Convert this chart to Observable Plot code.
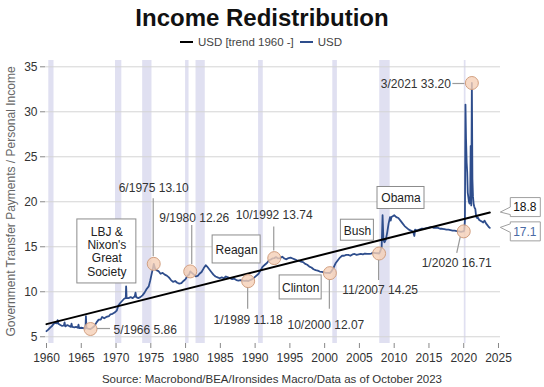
<!DOCTYPE html>
<html><head><meta charset="utf-8">
<script src="https://cdn.jsdelivr.net/npm/d3@7"></script>
<script src="https://cdn.jsdelivr.net/npm/@observablehq/plot@0.6"></script>
<style>
body{margin:0;background:#fff;font-family:"Liberation Sans",Arial,sans-serif;}
#wrap{position:relative;width:544px;height:387px;overflow:hidden;background:#fff}
#title{position:absolute;left:0;top:4px;width:524px;text-align:center;font-size:24px;font-weight:bold;line-height:28px;color:#111}
#legend{position:absolute;left:0;top:35px;width:522px;display:flex;justify-content:center;align-items:center;font-size:11.5px;line-height:14px;color:#444}
#legend .sw{display:inline-block;width:13px;height:2.5px;margin-right:5px}
#legend .it{display:flex;align-items:center;margin:0 3px}
#chart{position:absolute;left:0;top:48px}
#caption{position:absolute;left:0;top:371px;width:544px;text-align:center;font-size:11.5px;line-height:16px;color:#333}
</style></head>
<body>
<div id="wrap">
  <div id="title"></div>
  <div id="legend"></div>
  <div id="chart"></div>
  <div id="caption"></div>
</div>
<script>
// ---------- data ----------
const titleText = "Income Redistribution";
const captionText = "Source: Macrobond/BEA/Ironsides Macro/Data as of October 2023";
const yLabel = "Government Transfer Payments / Personal Income";
const seriesNames = ["USD [trend 1960 -]", "USD"];

const seriesYears = [
1960.00,1960.25,1960.50,1960.75,1961.00,1961.25,1961.50,1961.60,1961.70,1962.00,1962.25,1962.50,1962.60,1962.70,
1963.00,1963.25,1963.50,1963.60,1963.70,1964.00,1964.25,1964.50,1964.60,1964.70,1965.00,1965.30,1965.60,1965.67,1965.75,
1966.00,1966.33,1966.60,1966.90,1967.20,1967.50,1967.80,1968.00,1968.30,1968.60,1969.00,1969.20,1969.50,1969.80,
1970.10,1970.35,1970.60,1970.90,1971.20,1971.40,1971.45,1971.52,1971.80,1972.10,1972.40,1972.70,1972.80,1972.90,
1973.20,1973.50,1973.80,1974.10,1974.40,1974.70,1974.90,1975.10,1975.30,1975.42,1975.60,1975.80,1976.10,1976.40,1976.70,
1977.00,1977.30,1977.60,1977.90,1978.20,1978.50,1978.80,1979.10,1979.40,1979.70,1980.00,1980.30,1980.50,1980.67,1980.90,
1981.20,1981.50,1981.80,1982.00,1982.30,1982.60,1982.90,1983.10,1983.40,1983.70,1984.00,1984.30,1984.60,1984.90,
1985.20,1985.50,1985.80,1986.10,1986.40,1986.70,1987.00,1987.30,1987.60,1987.90,1988.20,1988.50,1988.80,1989.00,
1989.30,1989.60,1989.90,1990.20,1990.50,1990.80,1991.10,1991.40,1991.70,1992.00,1992.30,1992.50,1992.75,
1993.00,1993.30,1993.60,1993.90,1994.20,1994.50,1994.80,1995.10,1995.40,1995.70,1996.00,1996.30,1996.60,1996.90,
1997.20,1997.50,1997.80,1998.10,1998.40,1998.70,1999.00,1999.30,1999.60,1999.90,2000.20,2000.50,2000.75,
2001.00,2001.30,2001.60,2001.90,2002.20,2002.50,2002.80,2003.10,2003.40,2003.70,2004.00,2004.30,2004.60,2004.90,
2005.20,2005.50,2005.80,2006.10,2006.40,2006.70,2007.00,2007.30,2007.60,2007.83,2008.00,2008.20,2008.33,2008.45,
2008.60,2008.80,2009.00,2009.20,2009.40,2009.50,2009.60,2009.80,2010.00,2010.30,2010.60,2010.90,2011.20,2011.50,
2011.80,2012.10,2012.40,2012.70,2012.90,2013.00,2013.30,2013.60,2013.90,2014.20,2014.50,2014.80,2015.10,2015.40,
2015.70,2016.00,2016.30,2016.60,2016.90,2017.20,2017.50,2017.80,2018.10,2018.40,2018.70,2019.00,2019.30,2019.60,
2019.90,2020.00,2020.08,2020.17,2020.25,2020.33,2020.42,2020.50,2020.58,2020.67,2020.75,2020.83,2020.92,2021.00,
2021.08,2021.17,2021.25,2021.33,2021.42,2021.50,2021.58,2021.67,2021.75,2021.83,2021.92,2022.00,2022.20,2022.40,
2022.60,2022.80,2023.00,2023.20,2023.40,2023.60,2023.75];
const seriesValues = [
5.62,5.8,6.0,6.15,6.4,6.55,6.5,6.85,6.45,6.3,6.2,6.25,6.6,6.15,
6.3,6.2,6.1,6.45,6.1,6.05,6.1,6.0,6.35,5.95,6.0,5.95,5.9,7.3,5.95,
5.9,5.86,6.0,6.2,6.6,6.9,6.9,7.2,7.05,7.2,7.3,7.5,7.55,7.7,
7.9,8.5,8.75,9.0,9.25,9.3,10.6,9.3,9.3,9.4,9.3,9.5,9.9,9.4,
9.3,9.4,9.6,9.9,10.3,10.6,11.2,11.9,12.6,13.1,12.6,12.4,12.3,12.0,12.1,
11.9,11.8,11.6,11.3,11.1,11.2,11.0,10.9,10.95,11.2,11.4,11.8,11.9,12.26,12.1,
11.9,11.7,11.8,12.0,12.2,12.6,12.95,12.8,12.5,12.2,11.9,11.7,11.6,11.5,
11.6,11.5,11.7,11.6,11.5,11.4,11.45,11.3,11.25,11.3,11.25,11.2,11.25,11.18,
11.3,11.4,11.6,11.8,12.0,12.4,12.8,13.0,13.2,13.5,13.6,13.7,13.74,
13.85,13.7,13.75,13.9,13.7,13.6,13.75,13.8,13.7,13.6,13.5,13.45,13.35,13.3,
13.1,13.0,12.8,12.7,12.5,12.4,12.35,12.25,12.2,12.15,12.1,12.1,12.07,
12.3,12.7,13.2,13.5,13.8,14.0,14.0,14.1,14.1,14.0,14.15,14.2,14.1,14.15,
14.2,14.15,14.25,14.2,14.2,14.25,14.35,14.3,14.28,14.25,14.5,15.0,18.5,15.8,
15.5,15.8,16.6,17.6,18.3,17.9,18.3,18.4,18.5,18.3,18.2,17.9,17.6,17.3,
17.1,16.9,16.8,16.7,16.2,16.9,16.8,16.9,17.0,17.0,17.05,17.1,17.15,17.2,
17.1,17.1,17.1,17.0,17.0,16.95,16.9,16.9,16.85,16.8,16.8,16.75,16.7,16.65,
16.7,16.71,16.9,17.9,30.8,27.0,24.4,23.3,21.0,20.5,20.0,19.8,19.9,26.2,
19.6,33.2,22.5,20.6,19.8,19.5,19.3,19.2,18.6,18.3,18.2,18.3,18.0,17.9,
17.8,17.7,17.9,17.6,17.4,17.2,17.1];

const trendYears = [1960, 2023.75];
const trendValues = [6.4, 18.8];

const recessionStart = [1960.33, 1969.92, 1973.83, 1980.0, 1981.5, 1990.5, 2001.17, 2007.92, 2020.08];
const recessionEnd   = [1961.08, 1970.83, 1975.17, 1980.5, 1982.83, 1991.17, 2001.83, 2009.42, 2020.33];

const annLabels = ["5/1966 5.86","6/1975 13.10","9/1980 12.26","1/1989 11.18","10/1992 13.74","10/2000 12.07","11/2007 14.25","1/2020 16.71","3/2021 33.20"];
const annYears  = [1966.33, 1975.42, 1980.67, 1989.0, 1992.75, 2000.75, 2007.83, 2020.0, 2021.17];
const annValues = [5.86, 13.10, 12.26, 11.18, 13.74, 12.07, 14.25, 16.71, 33.20];

const eraLabels = ["LBJ &\nNixon's\nGreat\nSociety", "Reagan", "Clinton", "Bush", "Obama"];
const eraYears  = [1968.68, 1987.34, 1996.55, 2004.71, 2010.98];
const eraValues = [14.48, 14.7, 10.48, 16.84, 20.42];

const endLabels = ["18.8", "17.1"];
const endValues = [18.8, 17.1];
const endYear = 2023.75;

const xTicks = [1960,1965,1970,1975,1980,1985,1990,1995,2000,2005,2010,2015,2020,2025];
const yTicks = [5,10,15,20,25,30,35];

// ---------- layout / style ----------
const BLUE = "#2e4d8c";
const annLayout = [
  {dx:23, dy:1,   anchor:"start",  lead:[7,0,20,0]},
  {dx:0,  dy:-76, anchor:"middle", lead:[0,-7,0,-65]},
  {dx:4,  dy:-53, anchor:"middle", lead:[2,-7,2,-46]},
  {dx:0,  dy:39,  anchor:"middle", lead:[0,7,0,28]},
  {dx:0,  dy:-43, anchor:"middle", lead:[0,-7,0,-31]},
  {dx:-4, dy:52,  anchor:"middle", lead:[0,7,0,36]},
  {dx:1,  dy:37,  anchor:"middle", lead:[0,7,0,27]},
  {dx:-7, dy:32,  anchor:"middle", lead:[-3,6,-6.5,22]},
  {dx:-21,dy:1,   anchor:"end",    lead:[-19,1,-7,1]}
];
const eraBox = [[59,64],[48,28],[42,24],[33,21],[47,22]];
const endLayout = [{dy:-5, color:"#111"}, {dy:4, color:"#4a6aa5"}];

// ---------- build ----------
document.getElementById("title").textContent = titleText;
document.getElementById("caption").textContent = captionText;
const leg = document.getElementById("legend");
[["#000", seriesNames[0]], [BLUE, seriesNames[1]]].forEach(([c, t]) => {
  const it = document.createElement("span"); it.className = "it";
  const sw = document.createElement("span"); sw.className = "sw"; sw.style.background = c;
  it.appendChild(sw); it.appendChild(document.createTextNode(t)); leg.appendChild(it);
});

const series = seriesYears.map((x, i) => ({x, y: seriesValues[i]}));
const trend = trendYears.map((x, i) => ({x, y: trendValues[i]}));
const recessions = recessionStart.map((s, i) => ({s, e: recessionEnd[i]}));
const ann = annYears.map((x, i) => ({x, y: annValues[i], t: annLabels[i]}));
const eras = eraYears.map((x, i) => ({x, y: eraValues[i], t: eraLabels[i]}));

const plot = Plot.plot({
  width: 544, height: 322,
  marginLeft: 45, marginRight: 44, marginTop: 12, marginBottom: 27,
  x: {domain: [1959.856, 2025.288]},
  y: {domain: [4.25, 35.7]},
  style: {fontFamily: "'Liberation Sans', Arial, sans-serif", fontSize: "12px", color: "#333", background: "#fff", overflow: "visible"},
  marks: [
    Plot.rect(recessions, {x1: "s", x2: "e", fill: "#e0e0f1"}),
    Plot.gridY(yTicks, {stroke: "#d4d4d4", strokeOpacity: 1}),
    Plot.axisY(yTicks, {tickSize: 5, tickPadding: 3, label: null, stroke: "#888", fill: "#333", fontSize: 12}),
    Plot.axisX(xTicks, {tickSize: 5, tickPadding: 5, label: null, tickFormat: d => String(d), stroke: "#888", fill: "#333", fontSize: 12}),
    Plot.line(series, {x: "x", y: "y", stroke: BLUE, strokeWidth: 1.8}),
    Plot.line(trend, {x: "x", y: "y", stroke: "#000", strokeWidth: 2}),
    Plot.dot(ann, {x: "x", y: "y", r: 6.5, fill: "#f5cfb6", fillOpacity: 0.8, stroke: "#d2a081", strokeWidth: 1}),
    ...ann.map((d, i) => Plot.text([d], {x: "x", y: "y", text: "t", dx: annLayout[i].dx, dy: annLayout[i].dy, textAnchor: annLayout[i].anchor, fill: "#333", fontSize: 12})),
    Plot.text(eras, {x: "x", y: "y", text: "t", fill: "#222", fontSize: 12, lineHeight: 1.12}),
    ...endLabels.map((t, i) => Plot.text([{x: endYear, y: endValues[i], t}], {x: "x", y: "y", text: "t", dx: 35, dy: endLayout[i].dy, fill: endLayout[i].color, fontSize: 12}))
  ]
});
document.getElementById("chart").appendChild(plot);

// ---------- decorations through the plot's scales ----------
const svg = d3.select(plot);
const sx = plot.scale("x"), sy = plot.scale("y");

// leader lines
const lg = svg.append("g");
ann.forEach((d, i) => {
  const px = sx.apply(d.x), py = sy.apply(d.y), L = annLayout[i].lead;
  lg.append("line").attr("x1", px + L[0]).attr("y1", py + L[1]).attr("x2", px + L[2]).attr("y2", py + L[3])
    .attr("stroke", "#9a9a9a").attr("stroke-width", 1.2);
});

// era boxes behind era text
const reaganText = svg.selectAll("text").filter(function() { return this.textContent === "Reagan"; }).node();
if (reaganText) {
  const g = reaganText.parentNode;
  eras.forEach((d, i) => {
    const [w, h] = eraBox[i];
    const px = sx.apply(d.x), py = sy.apply(d.y);
    const r = document.createElementNS("http://www.w3.org/2000/svg", "rect");
    r.setAttribute("x", px - w / 2); r.setAttribute("y", py - h / 2);
    r.setAttribute("width", w); r.setAttribute("height", h);
    r.setAttribute("fill", "#fff"); r.setAttribute("stroke", "#8c8c8c"); r.setAttribute("stroke-width", 1);
    g.parentNode.insertBefore(r, g);
  });
}

// end-value callouts
const endText = svg.selectAll("text").filter(function() { return this.textContent === endLabels[0]; }).node();
if (endText) {
  const g = endText.parentNode;
  endValues.forEach((v, i) => {
    const tipX = sx.apply(endYear) + 11, tipY = sy.apply(v);
    const cy = tipY + endLayout[i].dy, h = 19, x0 = tipX + 10, x1 = tipX + 40;
    const top = cy - h / 2, bot = cy + h / 2;
    const nT = Math.max(top + 2, tipY - 5), nB = Math.min(bot - 2, tipY + 5);
    const p = document.createElementNS("http://www.w3.org/2000/svg", "path");
    p.setAttribute("d", `M${x0},${top}H${x1}V${bot}H${x0}V${nB}L${tipX},${tipY}L${x0},${nT}Z`);
    p.setAttribute("fill", "#fff"); p.setAttribute("stroke", "#a0a0a0"); p.setAttribute("stroke-width", 1);
    g.parentNode.insertBefore(p, g);
  });
}

// y-axis title
svg.append("text")
  .attr("transform", `translate(12,${(12 + 295) / 2}) rotate(-90)`)
  .attr("text-anchor", "middle").attr("dominant-baseline", "middle")
  .attr("fill", "#666").attr("font-size", 12)
  .text(yLabel);
</script>
</body></html>
